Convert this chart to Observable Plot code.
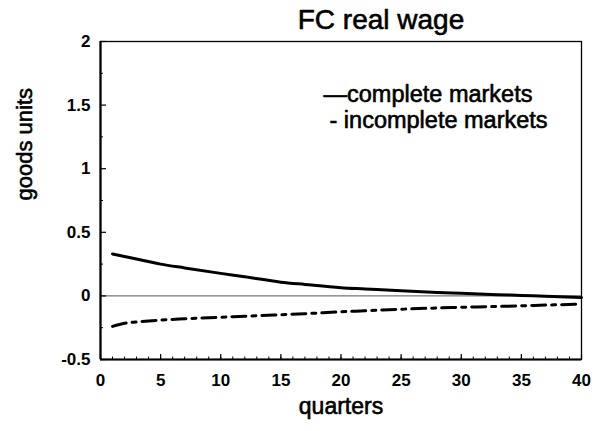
<!DOCTYPE html>
<html>
<head>
<meta charset="utf-8">
<script src="https://cdn.jsdelivr.net/npm/d3@7"></script>
<script src="https://cdn.jsdelivr.net/npm/@observablehq/plot@0.6"></script>
<style>
  html, body { margin: 0; padding: 0; background: white; }
</style>
</head>
<body>
<div id="chart"></div>
<script>
const titleText = "FC real wage";
const xLabel = "quarters";
const yLabel = "goods units";
const seriesNames = ["complete markets", "incomplete markets"];
const legendLabels = ["\u2014complete markets", "- incomplete markets"];

const quarters   = [1, 2, 3, 5, 7, 10, 12, 15, 17, 20, 22, 25, 28, 30, 33, 35, 37, 40];
const complete   = [0.33, 0.31, 0.29, 0.25, 0.22, 0.177, 0.15, 0.108, 0.09, 0.065, 0.055, 0.04, 0.027, 0.02, 0.01, 0.004, -0.002, -0.012];
const incomplete = [-0.24, -0.215, -0.205, -0.19, -0.18, -0.168, -0.16, -0.148, -0.14, -0.125, -0.117, -0.105, -0.095, -0.09, -0.083, -0.078, -0.072, -0.065];

const xMajor = [0, 5, 10, 15, 20, 25, 30, 35, 40];
const xMinor = d3.range(0, 41, 1);
const yMajor = [-0.5, 0, 0.5, 1, 1.5, 2];
const yMinor = [-0.25, 0.25, 0.75, 1.25, 1.75];

const W = 600, H = 431;
const mL = 100, mR = 19, mT = 41, mB = 72;
const fw = W - mL - mR, fh = H - mT - mB;

const rows = [];
quarters.forEach((q, i) => {
  rows.push({q, v: complete[i], s: seriesNames[0]});
  rows.push({q, v: incomplete[i], s: seriesNames[1]});
});

const font = "'Liberation Sans', Arial, Helvetica, sans-serif";
const heavy = {fill: "black", stroke: "black", strokeWidth: 0.6};

const chart = Plot.plot({
  width: W, height: H,
  marginLeft: mL, marginRight: mR, marginTop: mT, marginBottom: mB,
  style: {fontFamily: font, background: "white", color: "black"},
  x: {domain: [0, 40], axis: null},
  y: {domain: [-0.5, 2], axis: null},
  marks: [
    Plot.ruleY([0], {stroke: "#555", strokeWidth: 1}),
    Plot.tickY(yMajor, {y: d => d, stroke: "black", strokeWidth: 1.2, insetRight: fw - 6}),
    Plot.tickY(yMinor, {y: d => d, stroke: "black", strokeWidth: 1, insetRight: fw - 3}),
    Plot.tickX(xMajor, {x: d => d, stroke: "black", strokeWidth: 1.2, insetTop: fh - 5}),
    Plot.tickX(xMinor, {x: d => d, stroke: "black", strokeWidth: 1, insetTop: fh - 2.5}),
    Plot.frame({stroke: "black", strokeWidth: 1.3}),
    Plot.ruleX([0], {stroke: "black", strokeWidth: 2.2}),
    Plot.ruleY([-0.5], {stroke: "black", strokeWidth: 2.2}),
    Plot.line(rows.filter(d => d.s === seriesNames[0]), {
      x: "q", y: "v", stroke: "black", strokeWidth: 3, curve: "monotone-x"
    }),
    Plot.line(rows.filter(d => d.s === seriesNames[1]), {
      x: "q", y: "v", stroke: "black", strokeWidth: 3, curve: "monotone-x",
      strokeDasharray: "14,6,4,6"
    }),
    Plot.axisX(xMajor, {tickSize: 0, tickPadding: 14, fontSize: 17, fontWeight: "bold", label: null, tickFormat: d => String(d)}),
    Plot.axisY(yMajor, {tickSize: 0, tickPadding: 10, fontSize: 17, fontWeight: "bold", label: null, tickFormat: d => String(d)}),
    Plot.text([titleText], {text: d => d, frameAnchor: "top", dx: 40, dy: -13, lineAnchor: "bottom", fontSize: 28, ...heavy}),
    Plot.text([xLabel], {text: d => d, frameAnchor: "bottom", dy: 54, lineAnchor: "bottom", fontSize: 23, ...heavy}),
    Plot.text([yLabel], {text: d => d, frameAnchor: "left", dx: -76, rotate: -90, fontSize: 22, ...heavy}),
    Plot.text([legendLabels[0]], {text: d => d, frameAnchor: "top-left", dx: 223, dy: 60, lineAnchor: "bottom", textAnchor: "start", fontSize: 23.5, ...heavy}),
    Plot.text([legendLabels[1]], {text: d => d, frameAnchor: "top-left", dx: 229, dy: 86, lineAnchor: "bottom", textAnchor: "start", fontSize: 23.5, ...heavy})
  ]
});
document.getElementById("chart").appendChild(chart);
</script>
</body>
</html>
